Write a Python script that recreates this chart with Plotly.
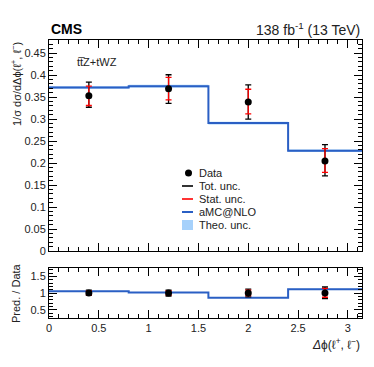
import math
import plotly.graph_objects as go

# bin edges in delta phi(l+, l-)
bin_edges = [0.0, 0.8, 1.6, 2.4, math.pi]
bin_centers = [0.4, 1.2, 2.0, 2.77]

# normalised cross section, data
data_val = [0.353, 0.369, 0.339, 0.205]
tot_up = [0.384, 0.401, 0.378, 0.242]
tot_dn = [0.327, 0.336, 0.300, 0.171]
stat_up = [0.375, 0.395, 0.368, 0.233]
stat_dn = [0.331, 0.344, 0.312, 0.179]

# aMC@NLO prediction and theory band
pred = [0.372, 0.375, 0.291, 0.228]
theo_up = [0.375, 0.378, 0.294, 0.231]
theo_dn = [0.369, 0.372, 0.288, 0.225]

legend_labels = ['Data', 'Tot. unc.', 'Stat. unc.', 'aMC@NLO', 'Theo. unc.']

BLUE = '#2a5fc4'
BAND = '#a6d1fb'
FONT = 'Liberation Sans, Arial, sans-serif'

# the page body has an 8px margin, so the figure is shrunk to fit the window
OFF = 8
W, H = 374 - 2 * OFF, 367 - 2 * OFF
L, R, T, B = 41, 4, 32, 41
pw, ph = W - L - R, H - T - B


def px2paper(x, y):
    # window pixel -> paper coords
    return (x - OFF - L) / pw, (H - B - (y - OFF)) / ph


def steps(vals):
    return vals + [vals[-1]]


def band_trace(lo, hi, xa, ya):
    px, py = [], []
    for i in range(len(hi)):
        px += [bin_edges[i], bin_edges[i + 1]]
        py += [hi[i], hi[i]]
    for i in range(len(lo) - 1, -1, -1):
        px += [bin_edges[i + 1], bin_edges[i]]
        py += [lo[i], lo[i]]
    return go.Scatter(x=px, y=py, fill='toself', fillcolor=BAND, mode='lines',
                      line=dict(width=0, color=BAND), showlegend=False,
                      xaxis=xa, yaxis=ya, hoverinfo='skip')


def err_trace(yc, up, dn, color, xa, ya):
    return go.Scatter(
        x=bin_centers, y=yc, mode='markers', marker=dict(size=0.1, color=color),
        error_y=dict(type='data', symmetric=False, array=up, arrayminus=dn,
                     color=color, thickness=1.3, width=3),
        showlegend=False, xaxis=xa, yaxis=ya)


fig = go.Figure()

# main panel
fig.add_trace(band_trace(theo_dn, theo_up, 'x', 'y'))
fig.add_trace(go.Scatter(x=bin_edges, y=steps(pred), mode='lines', line_shape='hv',
                         line=dict(color=BLUE, width=2), showlegend=False,
                         xaxis='x', yaxis='y'))
fig.add_trace(err_trace(data_val,
                        [u - v for u, v in zip(tot_up, data_val)],
                        [v - d for v, d in zip(data_val, tot_dn)], 'black', 'x', 'y'))
fig.add_trace(err_trace(data_val,
                        [u - v for u, v in zip(stat_up, data_val)],
                        [v - d for v, d in zip(data_val, stat_dn)], 'red', 'x', 'y'))
fig.add_trace(go.Scatter(x=bin_centers, y=data_val, mode='markers',
                         marker=dict(size=7, color='black'), showlegend=False,
                         xaxis='x', yaxis='y'))

# ratio panel: prediction / data
ratio = [p / d for p, d in zip(pred, data_val)]
r_lo = [t / d for t, d in zip(theo_dn, data_val)]
r_hi = [t / d for t, d in zip(theo_up, data_val)]
ones = [1.0] * len(bin_centers)
fig.add_trace(band_trace(r_lo, r_hi, 'x2', 'y2'))
fig.add_trace(go.Scatter(x=bin_edges, y=steps(ratio), mode='lines', line_shape='hv',
                         line=dict(color=BLUE, width=2), showlegend=False,
                         xaxis='x2', yaxis='y2'))
fig.add_trace(err_trace(ones,
                        [(u - v) / v for u, v in zip(tot_up, data_val)],
                        [(v - d) / v for v, d in zip(data_val, tot_dn)], 'black', 'x2', 'y2'))
fig.add_trace(err_trace(ones,
                        [(u - v) / v for u, v in zip(stat_up, data_val)],
                        [(v - d) / v for v, d in zip(data_val, stat_dn)], 'red', 'x2', 'y2'))
fig.add_trace(go.Scatter(x=bin_centers, y=ones, mode='markers',
                         marker=dict(size=7, color='black'), showlegend=False,
                         xaxis='x2', yaxis='y2'))

axis_common = dict(ticks='inside', mirror='allticks', showline=True, linecolor='black',
                   linewidth=1, showgrid=False, zeroline=False, tickcolor='black',
                   automargin=False,
                   tickfont=dict(size=11, color='#222', family=FONT))

main_bottom = 1 - (251 - 40) / ph
ratio_top = (318 - 268) / ph

fig.update_layout(
    width=W, height=H,
    margin=dict(l=L, r=R, t=T, b=B, autoexpand=False),
    paper_bgcolor='white', plot_bgcolor='white',
    font=dict(family=FONT, color='#222'),
    showlegend=False,
    xaxis=dict(domain=[0, 1], anchor='y', range=[0, math.pi], dtick=0.5, tick0=0,
               ticklen=8, showticklabels=False,
               minor=dict(dtick=0.1, ticklen=4, ticks='inside', tickcolor='black'),
               **axis_common),
    yaxis=dict(domain=[main_bottom, 1], anchor='x', range=[0, 0.48], dtick=0.05, tick0=0,
               ticklen=8,
               minor=dict(dtick=0.01, ticklen=4, ticks='inside', tickcolor='black'),
               **axis_common),
    xaxis2=dict(domain=[0, 1], anchor='y2', range=[0, math.pi], dtick=0.5, tick0=0,
                ticklen=8,
                minor=dict(dtick=0.1, ticklen=4, ticks='inside', tickcolor='black'),
                **axis_common),
    yaxis2=dict(domain=[0, ratio_top], anchor='x2', range=[0.25, 1.75], dtick=0.5, tick0=0,
                ticklen=8,
                minor=dict(dtick=0.1, ticklen=4, ticks='inside', tickcolor='black'),
                **axis_common),
)

# hand-made legend (ROOT style, compact)
row_y = [173, 186, 199, 212, 225]
sym_x0, sym_x1, text_x = 182, 193, 197
for i, lab in enumerate(legend_labels):
    x0, y0 = px2paper(sym_x0, row_y[i])
    x1, _ = px2paper(sym_x1, row_y[i])
    xt, _ = px2paper(text_x, row_y[i])
    if i == 0:
        xc, _ = px2paper((sym_x0 + sym_x1) / 2 + 1, row_y[i])
        rx, ry = 3.5 / pw, 3.5 / ph
        fig.add_shape(type='circle', xref='paper', yref='paper',
                      x0=xc - rx, x1=xc + rx, y0=y0 - ry, y1=y0 + ry,
                      fillcolor='black', line=dict(width=0))
    elif i < 4:
        col = ['black', 'red', BLUE][i - 1]
        fig.add_shape(type='line', xref='paper', yref='paper',
                      x0=x0, x1=x1, y0=y0, y1=y0, line=dict(color=col, width=1.6 if i < 3 else 2))
    else:
        hy = 5 / ph
        fig.add_shape(type='rect', xref='paper', yref='paper',
                      x0=x0, x1=x1, y0=y0 - hy, y1=y0 + hy,
                      fillcolor=BAND, line=dict(width=0))
    fig.add_annotation(text=lab, x=xt, y=y0, xref='paper', yref='paper',
                       xanchor='left', yanchor='middle', showarrow=False,
                       font=dict(size=11, family=FONT, color='#222'))

title_x = (8 - L) / pw

fig.add_annotation(text='<b>CMS</b>', x=0, y=1, xref='paper', yref='paper',
                   xanchor='left', yanchor='bottom', yshift=1, showarrow=False,
                   font=dict(size=14, family=FONT, color='black'))
fig.add_annotation(text='138 fb<sup>-1</sup> (13 TeV)', x=1, y=1, xref='paper', yref='paper',
                   xanchor='right', yanchor='bottom', yshift=0, showarrow=False,
                   font=dict(size=14, family=FONT, color='#222'))
fig.add_annotation(text='tt\u0305Z+tWZ', x=0.26, y=0.43, xref='x', yref='y',
                   xanchor='left', yanchor='middle', showarrow=False,
                   font=dict(size=11, family=FONT, color='#222'))
fig.add_annotation(text='1/σ dσ/dΔϕ(ℓ<sup>+</sup>, ℓ<sup>−</sup>)', x=title_x, y=1,
                   xref='paper', yref='paper', xanchor='center', yanchor='top',
                   textangle=-90, showarrow=False,
                   font=dict(size=11, family=FONT, color='#222'))
fig.add_annotation(text='Pred. / Data', x=title_x, y=ratio_top / 2,
                   xref='paper', yref='paper', xanchor='center', yanchor='middle',
                   textangle=-90, showarrow=False,
                   font=dict(size=11, family=FONT, color='#222'))
fig.add_annotation(text='<i>Δ</i>ϕ(ℓ<sup>+</sup>, ℓ<sup>−</sup>)', x=1, y=0,
                   xref='paper', yref='paper', xanchor='right', yanchor='top',
                   yshift=-16, showarrow=False,
                   font=dict(size=12, family=FONT, color='#222'))

fig.write_html("out.html")
